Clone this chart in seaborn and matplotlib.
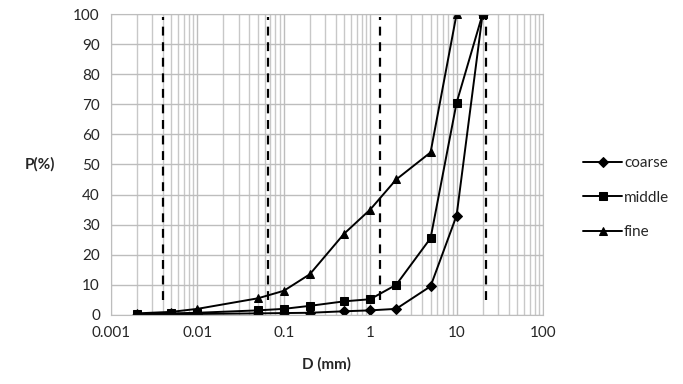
import matplotlib
matplotlib.use('Agg')
import matplotlib.pyplot as plt
from matplotlib.ticker import FixedLocator, LogLocator, NullFormatter
import seaborn as sns
import pandas as pd

# Datos
d_mm = [0.002, 0.005, 0.01, 0.05, 0.1, 0.2, 0.5, 1, 2, 5, 10, 20]
coarse = [0.0, 0.2, 0.3, 0.5, 0.6, 0.7, 1.2, 1.5, 2.0, 9.5, 33.0, 100.0]
middle = [0.3, 0.5, 0.7, 1.5, 2.0, 3.0, 4.5, 5.2, 10.0, 25.5, 70.5, 100.0]
fine = [0.5, 1.0, 2.0, 5.5, 8.0, 13.5, 27.0, 35.0, 45.0, 54.0, 100.0]
limites = [0.004, 0.065, 1.3, 22]
x_ticks = [0.001, 0.01, 0.1, 1, 10, 100]
x_labels = ['0.001', '0.01', '0.1', '1', '10', '100']

sns.set_style('white')
plt.rcParams['font.family'] = ['Lato', 'DejaVu Sans']

df = pd.concat([
    pd.DataFrame({'D': d_mm, 'P': coarse, 'serie': 'coarse'}),
    pd.DataFrame({'D': d_mm, 'P': middle, 'serie': 'middle'}),
    pd.DataFrame({'D': d_mm[:len(fine)], 'P': fine, 'serie': 'fine'}),
])

fig = plt.figure(figsize=(6.83, 3.84), dpi=100)
ax = fig.add_axes([0.1625, 0.18, 0.6325, 0.7835])

sns.lineplot(data=df, x='D', y='P', hue='serie', style='serie',
             palette=['black', 'black', 'black'],
             markers={'coarse': 'D', 'middle': 's', 'fine': '^'},
             dashes=False, markersize=5.5, linewidth=1.4,
             markeredgecolor='black', ax=ax, sort=False)

for x0 in limites:
    ax.plot([x0, x0], [5, 99], color='black', linestyle=(0, (4, 3)), linewidth=1.6, zorder=1)

ax.set_xscale('log')
ax.set_xlim(0.001, 100)
ax.set_ylim(0, 100)
ax.xaxis.set_major_locator(FixedLocator(x_ticks))
ax.set_xticklabels(x_labels)
ax.xaxis.set_minor_locator(LogLocator(base=10, subs=range(2, 10)))
ax.xaxis.set_minor_formatter(NullFormatter())
ax.set_yticks(range(0, 101, 10))

ax.grid(True, which='major', color='#bdbdbd', linewidth=1.0)
ax.grid(True, which='minor', axis='x', color='#c8c8c8', linewidth=1.0)
ax.set_axisbelow(True)
for s in ax.spines.values():
    s.set_color('#bdbdbd')
ax.tick_params(axis='both', which='major', labelsize=11, length=4, color='#bdbdbd', pad=4)
ax.tick_params(axis='x', which='minor', length=0)

ax.set_xlabel('D (mm)', fontsize=11, fontweight='bold', labelpad=12)
ax.set_ylabel('P(%)', fontsize=11, fontweight='bold', rotation=0, labelpad=24, va='center')

ax.legend(loc='center left', bbox_to_anchor=(1.06, 0.39), frameon=False, title=None,
          fontsize=11, handlelength=2.6, handletextpad=0.1, labelspacing=1.35)

plt.savefig('out.png', dpi=100)
